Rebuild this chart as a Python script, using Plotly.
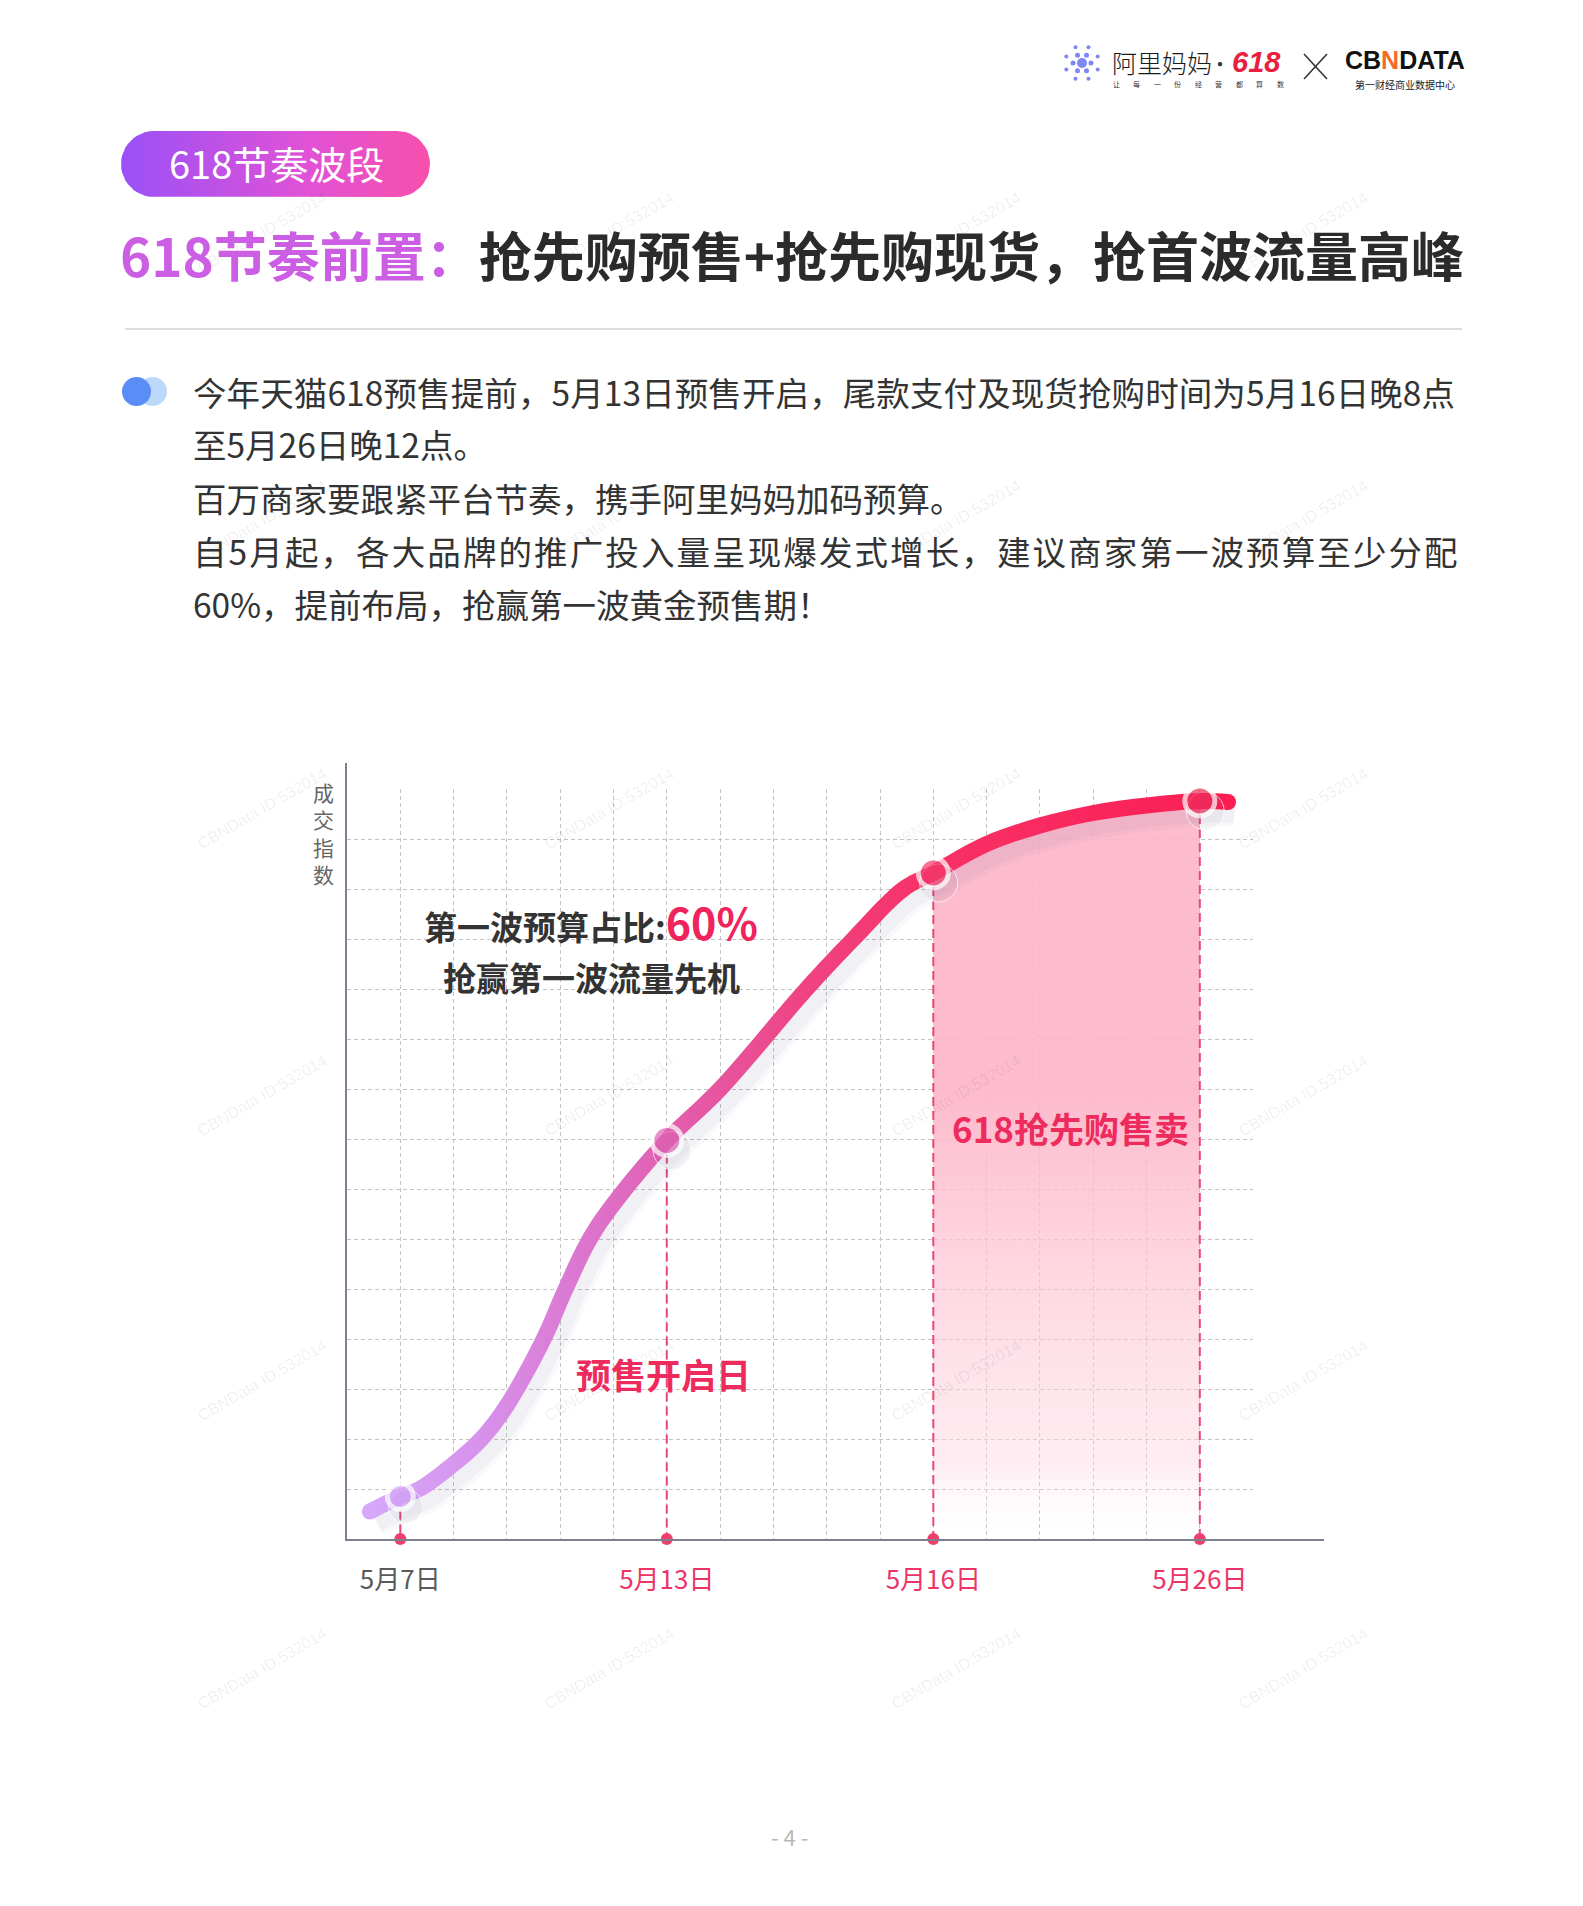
import numpy as np
import plotly.graph_objects as go

# ---------------- data ----------------
dates = ["5月7日", "5月13日", "5月16日", "5月26日"]
date_pos = [1, 6, 11, 16]
key_values = [0.85, 7.97, 13.32, 14.76]

curve_x = [0.43, 1.0, 1.36, 2.0, 2.52, 3.0, 3.69, 4.1, 4.555, 5.0, 6.0,
           7.0, 8.62, 9.5, 10.44, 11.0, 12.0, 13.0, 14.0, 15.0, 16.0, 16.53]
curve_y = [0.55, 0.85, 1.0, 1.5, 2.0, 2.67, 4.0, 5.0, 6.0, 6.7, 7.97,
           9.0, 11.0, 12.0, 13.0, 13.32, 13.9, 14.27, 14.52, 14.67, 14.76, 14.74]

fill_start, fill_end = 11, 16

title_tag = "618节奏波段"
title_left = "618节奏前置："
title_right = "抢先购预售+抢先购现货，抢首波流量高峰"
body_lines = [
    "今年天猫618预售提前，5月13日预售开启，尾款支付及现货抢购时间为5月16日晚8点",
    "至5月26日晚12点。",
    "百万商家要跟紧平台节奏，携手阿里妈妈加码预算。",
    "自5月起，各大品牌的推广投入量呈现爆发式增长，建议商家第一波预算至少分配",
    "60%，提前布局，抢赢第一波黄金预售期！",
]
y_title = "成交指数"
note_line1 = "第一波预算占比:"
note_pct = "60%"
note_line2 = "抢赢第一波流量先机"
label_presale = "预售开启日"
label_sale = "618抢先购售卖"
page_no = "- 4 -"
watermark = "CBNData ID:532014"
slogan = "让每一份经营都算数"

# ---------------- layout constants ----------------
W, H = 1583, 1906
AX_L, AX_R, AX_T, AX_B = 347, 1324, 763, 1539
XMAX, YMAX = 18.33, 15.52
GRID_NX, GRID_NY = 17, 15
FONT = "Noto Sans CJK SC"
PINK = "#ee2b5d"
SX = (AX_R - AX_L) / XMAX   # px per x unit
SY = (AX_B - AX_T) / YMAX   # px per y unit


def dx(px):
    return px / W


def dy(py):
    return 1 - py / H


grad_pos = [0.4, 2.5, 4.5, 6.0, 8.5, 11.0, 16.6]
grad_col = ["#d6a8fa", "#d792ec", "#dc74cd", "#e25fb0", "#ef4484", "#f73166", "#fb1e54"]


def hex2rgb(h):
    h = h.lstrip("#")
    return [int(h[i:i + 2], 16) for i in (0, 2, 4)]


def color_at(x):
    x = min(max(x, grad_pos[0]), grad_pos[-1])
    for i in range(len(grad_pos) - 1):
        if grad_pos[i] <= x <= grad_pos[i + 1]:
            t = (x - grad_pos[i]) / (grad_pos[i + 1] - grad_pos[i])
            a, b = hex2rgb(grad_col[i]), hex2rgb(grad_col[i + 1])
            return "rgb(%d,%d,%d)" % tuple(round(a[k] + (b[k] - a[k]) * t) for k in range(3))
    return grad_col[-1]


def offset_edge(xs, ys, half_px):
    """edge of a thick stroke around the curve (styling geometry)"""
    X = np.array(xs) * SX
    Y = np.array(ys) * SY
    ex, ey = [], []
    m = len(X)
    for i in range(m):
        a, b = max(0, i - 1), min(m - 1, i + 1)
        tx, ty = X[b] - X[a], Y[b] - Y[a]
        L = np.hypot(tx, ty)
        nx, ny = -ty / L, tx / L
        ex.append((X[i] + nx * half_px) / SX)
        ey.append((Y[i] + ny * half_px) / SY)
    return ex, ey


fig = go.Figure()

# ---------- page layer (xy): pixel coordinates ----------
r = 33
cyp = 164
t1 = np.linspace(-np.pi / 2, np.pi / 2, 25)
t2 = np.linspace(np.pi / 2, 3 * np.pi / 2, 25)
pill_x = list(397 + r * np.cos(t1)) + list(154 + r * np.cos(t2))
pill_y = list(cyp + r * np.sin(t1)) + list(cyp + r * np.sin(t2))
fig.add_trace(go.Scatter(
    x=pill_x, y=pill_y, fill="toself", mode="lines", line=dict(width=0),
    fillgradient=dict(type="horizontal", colorscale=[[0, "#9a50f7"], [0.6, "#e052d6"], [1, "#f84fab"]],
                      start=121, stop=430),
    hoverinfo="skip", showlegend=False, xaxis="x", yaxis="y"))

ic_x, ic_y, ic_s = [1082], [63], [10]
for k in range(6):
    a = k * np.pi / 3
    ic_x.append(1082 + 9 * np.cos(a)); ic_y.append(63 + 9 * np.sin(a)); ic_s.append(5)
for k in range(8):
    a = k * np.pi / 4 + np.pi / 8
    ic_x.append(1082 + 17 * np.cos(a)); ic_y.append(63 + 17 * np.sin(a)); ic_s.append(4)
fig.add_trace(go.Scatter(x=ic_x, y=ic_y, mode="markers",
                         marker=dict(size=ic_s, color="#4656ee", line=dict(width=0)),
                         hoverinfo="skip", showlegend=False, xaxis="x", yaxis="y"))

# ---------- grid subplot (x2y2) ----------
fig.add_trace(go.Scatter(x=[0], y=[0], mode="markers", marker=dict(opacity=0), hoverinfo="skip",
                         showlegend=False, xaxis="x2", yaxis="y2"))

# ---------- chart (x3y3) ----------
fx = [x for x in curve_x if fill_start <= x <= fill_end]
fy = [y for x, y in zip(curve_x, curve_y) if fill_start <= x <= fill_end]
fig.add_trace(go.Scatter(
    x=fx, y=fy, mode="lines", line=dict(width=0, shape="spline"), fill="tozeroy",
    fillgradient=dict(type="vertical",
                      colorscale=[[0, "rgba(255,255,255,0)"], [0.1, "rgba(254,214,225,0.45)"],
                                  [0.6, "rgba(253,180,200,0.9)"], [1, "rgba(253,180,200,0.9)"]],
                      start=0, stop=max(fy)),
    hoverinfo="skip", showlegend=False, xaxis="x3", yaxis="y3"))

gx, gy = [], []
for p, v in zip(date_pos, key_values):
    gx += [p, p, None]
    gy += [v, 0, None]
fig.add_trace(go.Scatter(x=gx, y=gy, mode="lines",
                         line=dict(color="#e9467a", width=2, dash="9px,5px"),
                         hoverinfo="skip", showlegend=False, xaxis="x3", yaxis="y3"))

# soft shadow of the curve
for w, a in [(30, 0.035), (22, 0.05)]:
    fig.add_trace(go.Scatter(x=[x + 0.12 for x in curve_x], y=[y - 0.2 for y in curve_y],
                             mode="lines", line=dict(width=w, color="rgba(90,90,130,%s)" % a, shape="spline"),
                             hoverinfo="skip", showlegend=False, xaxis="x3", yaxis="y3"))

# gradient stroke: band between two edges of the curve
lx, ly = offset_edge(curve_x, curve_y, -8)
ux, uy = offset_edge(curve_x, curve_y, 8)
x_lo, x_hi = min(lx + ux), max(lx + ux)
cs = [[(p - x_lo) / (x_hi - x_lo), c] for p, c in zip(grad_pos, grad_col)]
cs = [[min(max(v, 0), 1), c] for v, c in cs]
cs[0][0], cs[-1][0] = 0, 1
fig.add_trace(go.Scatter(x=lx, y=ly, mode="lines", line=dict(width=0, shape="spline"),
                         hoverinfo="skip", showlegend=False, xaxis="x3", yaxis="y3"))
fig.add_trace(go.Scatter(x=ux, y=uy, mode="lines", line=dict(width=0, shape="spline"), fill="tonexty",
                         fillgradient=dict(type="horizontal", colorscale=cs, start=x_lo, stop=x_hi),
                         hoverinfo="skip", showlegend=False, xaxis="x3", yaxis="y3"))
fig.add_trace(go.Scatter(x=[curve_x[0], curve_x[-1]], y=[curve_y[0], curve_y[-1]], mode="markers",
                         marker=dict(size=16, color=[color_at(curve_x[0]), color_at(curve_x[-1])]),
                         hoverinfo="skip", showlegend=False, xaxis="x3", yaxis="y3"))

mk_sizes = [26, 30, 30, 30]
fig.add_trace(go.Scatter(x=[p + 0.1 for p in date_pos], y=[v - 0.2 for v in key_values], mode="markers",
                         marker=dict(size=[s + 8 for s in mk_sizes], color="rgba(80,80,120,0.08)"),
                         hoverinfo="skip", showlegend=False, xaxis="x3", yaxis="y3"))
fig.add_trace(go.Scatter(x=date_pos, y=key_values, mode="markers",
                         marker=dict(size=mk_sizes, color=["#d4a4f8", "#e063b2", "#f6386a", "#f02c5b"],
                                     line=dict(color="white", width=5)),
                         hoverinfo="skip", showlegend=False, xaxis="x3", yaxis="y3"))
fig.add_trace(go.Scatter(x=date_pos, y=[0] * len(date_pos), mode="markers", cliponaxis=False,
                         marker=dict(size=12, color="#ef3f6d"),
                         hoverinfo="skip", showlegend=False, xaxis="x3", yaxis="y3"))

# ---------- annotations ----------
ann = []


def page_text(x, y, text, size, color="#333333", xanchor="center", yanchor="middle", weight="normal",
              style="normal", angle=0, family=FONT):
    ann.append(dict(x=x, y=y, xref="x", yref="y", text=text, showarrow=False, xanchor=xanchor,
                    yanchor=yanchor, textangle=angle,
                    font=dict(family=family, size=size, color=color, weight=weight, style=style)))


for wy in [232, 520, 808, 1095, 1380, 1668]:
    for wx in [262, 609, 956, 1303]:
        page_text(wx, wy, watermark, 16, color="rgba(0,0,0,0.07)", angle=-30, family="Liberation Sans")

# header
page_text(1110, 62, "阿里妈妈", 25, color="#1a1a1a", xanchor="left", weight=300)
for i, ch in enumerate(slogan):
    page_text(1116 + i * 20.5, 84, ch, 7, color="#333")
page_text(1220, 63, "·", 20, color="#333")
page_text(1256, 62, "618", 29, color="#e8203f", weight="bold", style="italic", family="Liberation Sans")
page_text(1405, 60, "CB<span style='color:#f26b2b'>N</span>DATA", 25, color="#111", weight="bold",
          family="Liberation Sans")
page_text(1405, 84, "第一财经商业数据中心", 10, color="#222")

page_text(276, 162, title_tag, 38, color="white")
page_text(118, 254, "<span style='color:#cb5ee2'>%s</span>%s" % (title_left, title_right), 53,
          color="#2b2b2b", xanchor="left", weight="bold")

body_spacing = ["0.1px", "0px", "0px", "2.1px", "0px"]
for i, line in enumerate(body_lines):
    txt = line if body_spacing[i] == "0px" else "<span style='letter-spacing:%s'>%s</span>" % (body_spacing[i], line)
    page_text(191, [391, 443, 497, 550, 603][i], txt, 33.5, color="#333333", xanchor="left")

for i, ch in enumerate(y_title):
    page_text(323, 792 + i * 27.3, ch, 21, color="#666666")
page_text(789, 1836, page_no, 22, color="#b8b8b8")


def chart_text(x, y, text, size, color, weight="bold"):
    ann.append(dict(x=x, y=y, xref="x3", yref="y3", text=text, showarrow=False,
                    font=dict(family=FONT, size=size, color=color, weight=weight)))


chart_text(4.58, 12.36, "%s<span style='color:#f0245c;font-size:43px'>%s</span>" % (note_line1, note_pct), 33, "#333333")
chart_text(4.58, 11.24, note_line2, 33, "#333333")
chart_text(5.94, 3.32, label_presale, 35, PINK)
chart_text(13.57, 8.24, label_sale, 35, PINK)

shapes = [
    dict(type="line", xref="x", yref="y", x0=125, x1=1462, y0=329, y1=329, line=dict(color="#d2d2d2", width=1.5)),
    dict(type="circle", xref="x", yref="y", x0=138, x1=167, y0=377, y1=406, fillcolor="#bcd8fb", line=dict(width=0)),
    dict(type="circle", xref="x", yref="y", x0=122, x1=151, y0=377, y1=406, fillcolor="#5b8df6", line=dict(width=0)),
    dict(type="line", xref="x", yref="y", x0=1304, x1=1327, y0=54, y1=79, line=dict(color="#333", width=1.6)),
    dict(type="line", xref="x", yref="y", x0=1304, x1=1327, y0=79, y1=54, line=dict(color="#333", width=1.6)),
]

grid_right = AX_L + GRID_NX * SX
grid_top = AX_B - GRID_NY * SY
tick_colors = ["#5a5a5a", "#ec3566", "#ec3566", "#ec3566"]
ticktext = ["<span style='color:%s'>%s</span>" % (c, d) for c, d in zip(tick_colors, dates)]

fig.update_layout(
    width=W, height=H, margin=dict(l=0, r=0, t=0, b=0, autoexpand=False),
    paper_bgcolor="white", plot_bgcolor="rgba(0,0,0,0)", showlegend=False,
    font=dict(family=FONT),
    xaxis=dict(domain=[0, 1], range=[0, W], visible=False, fixedrange=True),
    yaxis=dict(domain=[0, 1], range=[H, 0], visible=False, fixedrange=True),
    xaxis2=dict(domain=[dx(AX_L), dx(grid_right)], range=[0, GRID_NX], anchor="y2",
                showgrid=True, dtick=1, tick0=0, gridcolor="#c4c4c4", griddash="4px,3px", gridwidth=1,
                showticklabels=False, zeroline=False, showline=False, ticks="", fixedrange=True),
    yaxis2=dict(domain=[dy(AX_B), dy(grid_top)], range=[0, GRID_NY], anchor="x2",
                showgrid=True, dtick=1, tick0=0, gridcolor="#c4c4c4", griddash="4px,3px", gridwidth=1,
                showticklabels=False, zeroline=False, showline=False, ticks="", fixedrange=True),
    xaxis3=dict(domain=[dx(AX_L), dx(AX_R)], range=[0, XMAX], anchor="y3",
                showgrid=False, zeroline=False, showline=True, linecolor="#7c8090", linewidth=2,
                tickmode="array", tickvals=date_pos, ticktext=ticktext, ticks="",
                tickfont=dict(family=FONT, size=26), ticklabelstandoff=17, fixedrange=True),
    yaxis3=dict(domain=[dy(AX_B), dy(AX_T)], range=[0, YMAX], anchor="x3",
                showgrid=False, zeroline=False, showline=True, linecolor="#7c8090", linewidth=2,
                showticklabels=False, ticks="", fixedrange=True),
    annotations=ann, shapes=shapes,
)

fig.write_html("out.html", config={"displayModeBar": False},
               post_script="document.body.style.margin='0';document.body.style.overflow='hidden';")
